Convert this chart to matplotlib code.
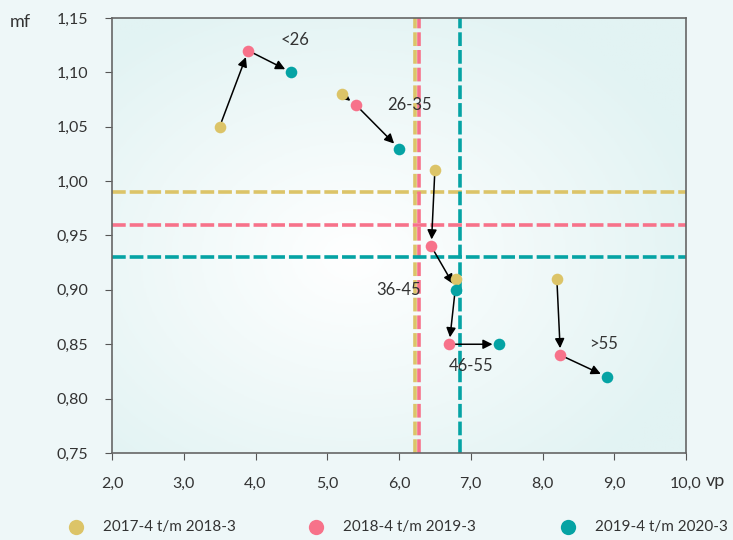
import numpy as np
import matplotlib.pyplot as plt
from matplotlib.colors import LinearSegmentedColormap

# leeftijdsgroepen en waarden per periode
groepen = ['<26', '26-35', '36-45', '46-55', '>55']
perioden = ['2017-4 t/m 2018-3', '2018-4 t/m 2019-3', '2019-4 t/m 2020-3']
kleuren = ['#dcc468', '#f7728a', '#05a3a4']

vp_2018 = [3.5, 5.2, 6.5, 6.8, 8.2]
mf_2018 = [1.05, 1.08, 1.01, 0.91, 0.91]
vp_2019 = [3.9, 5.4, 6.45, 6.7, 8.25]
mf_2019 = [1.12, 1.07, 0.94, 0.85, 0.84]
vp_2020 = [4.5, 6.0, 6.8, 7.4, 8.9]
mf_2020 = [1.10, 1.03, 0.90, 0.85, 0.82]

# gemiddelden per periode (stippellijnen)
gem_vp = [6.22, 6.28, 6.85]
gem_mf = [0.99, 0.96, 0.93]

# positie van de groepslabels
label_vp = [4.55, 6.15, 6.0, 7.0, 8.85]
label_mf = [1.13, 1.07, 0.90, 0.83, 0.85]

plt.rcParams['font.family'] = ['Lato', 'DejaVu Sans']
tekst = '#333333'

fig = plt.figure(figsize=(7.33, 5.4), dpi=100, facecolor='#eef7f8')
ax = fig.add_axes([112/733, 87/540, 574/733, 435/540])

# radiale achtergrond
yy, xx = np.mgrid[0:1:200j, 0:1:200j]
r = np.sqrt(((xx-0.42)/0.75)**2 + ((yy-0.45)/0.75)**2)
cmap = LinearSegmentedColormap.from_list('bg', ['#ffffff', '#e2f3f3'])
ax.imshow(r, cmap=cmap, extent=[0, 1, 0, 1], transform=ax.transAxes,
          aspect='auto', zorder=0, vmin=0, vmax=0.85, origin='lower')

for i in range(3):
    ax.axhline(gem_mf[i], color=kleuren[i], lw=2.6, ls=(0, (3.8, 1.1)), zorder=2)
    ax.axvline(gem_vp[i], color=kleuren[i], lw=2.6, ls=(0, (3.8, 1.1)), zorder=2)

pijl = dict(arrowstyle='-|>', color='black', lw=1.1, mutation_scale=14,
            shrinkA=4, shrinkB=5)
for j in range(len(groepen)):
    ax.annotate('', xy=(vp_2019[j], mf_2019[j]), xytext=(vp_2018[j], mf_2018[j]),
                arrowprops=pijl, zorder=3)
    ax.annotate('', xy=(vp_2020[j], mf_2020[j]), xytext=(vp_2019[j], mf_2019[j]),
                arrowprops=pijl, zorder=3)
    ax.text(label_vp[j], label_mf[j], groepen[j], fontsize=12, color=tekst,
            ha='center', va='center', zorder=5)

for vp, mf, k in zip([vp_2018, vp_2019, vp_2020], [mf_2018, mf_2019, mf_2020], kleuren):
    ax.scatter(vp, mf, s=70, color=k, zorder=4, linewidths=0)

ax.set_xlim(2, 10)
ax.set_ylim(0.75, 1.15)
ax.set_xticks(np.arange(2, 10.01, 1))
ax.set_yticks(np.arange(0.75, 1.151, 0.05))
ax.set_xticklabels([f'{v:.1f}'.replace('.', ',') for v in np.arange(2, 10.01, 1)])
ax.set_yticklabels([f'{v:.2f}'.replace('.', ',') for v in np.arange(0.75, 1.151, 0.05)])
ax.tick_params(colors='#555555', labelcolor=tekst, labelsize=11.5, length=5, pad=12)
for s in ax.spines.values():
    s.set_color('#666666')
    s.set_linewidth(1.2)

fig.text(10/733, 1 - 22/540, 'mf', fontsize=13, color=tekst, ha='left', va='center')
fig.text(706/733, 1 - 481/540, 'vp', fontsize=13, color=tekst, ha='left', va='center')

# legenda
leg_x = [76, 316, 568]
for i in range(3):
    fig.lines.append(plt.Line2D([leg_x[i]/733], [1 - 527/540], marker='o', markersize=11,
                                color=kleuren[i], markeredgewidth=0, transform=fig.transFigure))
    fig.text((leg_x[i] + 27)/733, 1 - 527/540, perioden[i], fontsize=11, color=tekst,
             ha='left', va='center')

fig.savefig('out.png', dpi=100, facecolor=fig.get_facecolor())
